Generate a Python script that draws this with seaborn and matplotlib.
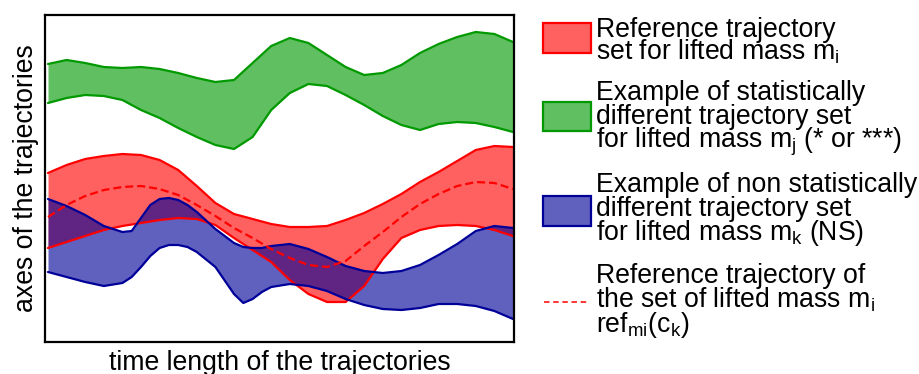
import numpy as np
import pandas as pd
import seaborn as sns
import matplotlib
matplotlib.use("Agg")
import matplotlib.pyplot as plt
from matplotlib.patches import Rectangle
from matplotlib.lines import Line2D

# ---- trajectory envelopes (time in % of movement, arbitrary vertical units) ----
time_grid = [0, 4, 8, 12, 16, 20, 24, 28, 32, 36, 40, 44, 48, 52, 56, 60, 64,
             68, 72, 76, 80, 84, 88, 92, 96, 100]

green_upper = [278, 282, 279, 275, 274, 275, 273, 269, 264, 260, 262, 279, 296,
               304, 299, 287, 275, 267, 269, 277, 289, 298, 305, 310, 308, 300]
green_lower = [239, 244, 247, 246, 242, 232, 224, 214, 205, 197, 193, 205, 232,
               249, 258, 256, 247, 237, 226, 217, 212, 218, 220, 219, 215, 210]

red_upper = [169, 177, 183, 186, 188, 187, 182, 172, 156, 139, 128, 123, 118,
             115, 115, 116, 122, 129, 138, 148, 160, 170, 181, 192, 196, 195]
red_lower = [94, 100, 106, 112, 116, 119, 122, 124, 123, 117, 104, 92, 80,
             62, 48, 40, 40, 56, 83, 104, 112, 116, 117, 116, 112, 106]
red_reference = [125, 137, 146, 152, 155, 156, 153, 147, 137, 126, 114, 104, 93,
                 84, 77, 75, 81, 96, 110, 125, 138, 148, 156, 160, 159, 153]

time_blue = [0, 4, 8, 12, 16, 18, 20, 22, 24, 26, 28, 30, 32, 36, 40, 42, 44,
             46, 48, 52, 56, 60, 64, 68, 72, 76, 80, 84, 88, 92, 96, 100]
blue_upper = [143, 136, 127, 116, 110, 111, 124, 137, 143, 144, 142, 137, 130,
              113, 99, 95, 94, 94, 96, 98, 93, 85, 76, 71, 69, 71, 77, 87, 98,
              111, 116, 114]
blue_lower = [70, 65, 60, 56, 59, 65, 75, 86, 94, 97, 97, 95, 90, 75, 48, 39,
              43, 50, 55, 58, 56, 51, 43, 37, 33, 32, 34, 38, 38, 36, 31, 23]

# ---- legend text ----
legend_blocks = [
    ["Reference trajectory",
     r"set for lifted mass m$_\mathregular{i}$"],
    ["Example of statistically",
     "different trajectory set",
     r"for lifted mass m$_\mathregular{j}$ (* or ***)"],
    ["Example of non statistically",
     "different trajectory set",
     r"for lifted mass m$_\mathregular{k}$ (NS)"],
    ["Reference trajectory of",
     r"the set of lifted mass m$_\mathregular{i}$",
     r"ref$_\mathregular{mi}$(c$_\mathregular{k}$)"],
]

x_label = "time length of the trajectories"
y_label = "axes of the trajectories"

sns.set_theme(style="white")
plt.rcParams["font.family"] = ["Liberation Sans", "DejaVu Sans"]
plt.rcParams["mathtext.default"] = "regular"

RED, RED_EDGE = (1.0, 0.0, 0.0), "#ff0000"
GREEN, GREEN_EDGE = (0.0, 0.6, 0.0), "#009900"
BLUE, BLUE_EDGE = (0.0, 0.0, 0.6), "#000099"
FILL_ALPHA = 0.625
FS = 19.2

W, H = 920, 374
fig = plt.figure(figsize=(W / 100, H / 100), dpi=100)
ax = fig.add_axes([45 / W, 32 / H, 469 / W, 327 / H])

green = pd.DataFrame({"t": time_grid, "up": green_upper, "lo": green_lower})
red = pd.DataFrame({"t": time_grid, "up": red_upper, "lo": red_lower,
                    "ref": red_reference})
blue = pd.DataFrame({"t": time_blue, "up": blue_upper, "lo": blue_lower})


def band(df, face, edge):
    ax.fill_between(df["t"], df["lo"], df["up"], color=face, alpha=FILL_ALPHA,
                    linewidth=0)
    for col in ("up", "lo"):
        sns.lineplot(data=df, x="t", y=col, ax=ax, color=edge, lw=1.6,
                     estimator=None, legend=False)


band(green, GREEN, GREEN_EDGE)
band(red, RED, RED_EDGE)
band(blue, BLUE, BLUE_EDGE)
sns.lineplot(data=red, x="t", y="ref", ax=ax, color=RED_EDGE, lw=1.6,
             estimator=None, legend=False, dashes=False)
ax.lines[-1].set_dashes((3.6, 1.8))

ax.set_xlim(-0.645, 100.215)
ax.set_ylim(0, 327)
ax.set_xticks([])
ax.set_yticks([])
for sp in ax.spines.values():
    sp.set_color("black")
    sp.set_linewidth(1.6)

ax.set_xlabel(x_label, fontsize=FS, color="black", va="baseline")
ax.xaxis.set_label_coords(0.5, -28 / 327)
ax.set_ylabel(y_label, fontsize=FS, color="black", va="baseline")
ax.yaxis.set_label_coords(-12 / 469, 0.5)

# ---- legend: swatches and wrapped labels ----
def fy(py):
    return (H - py) / H


swatches = [(RED, RED_EDGE, 23, 53), (GREEN, GREEN_EDGE, 102, 131),
            (BLUE, BLUE_EDGE, 196, 226)]
for face, edge, top, bottom in swatches:
    fig.patches.append(Rectangle((543 / W, fy(bottom)), 48 / W,
                                 (bottom - top) / H, transform=fig.transFigure,
                                 facecolor=(*face, FILL_ALPHA), edgecolor=edge,
                                 linewidth=1.6))
fig.lines.append(Line2D([544 / W, 587 / W], [fy(302), fy(302)],
                        transform=fig.transFigure, color=RED_EDGE, lw=1.1,
                        dashes=(3.6, 2.4)))

baselines = [[36.7, 60], [100, 123.5, 147], [191.7, 216, 240],
             [283, 307.5, 331.7]]
for block, ys in zip(legend_blocks, baselines):
    for line, py in zip(block, ys):
        fig.text(596 / W, fy(py), line, fontsize=FS, color="black",
                 ha="left", va="baseline")

fig.savefig("out.png", dpi=100)
